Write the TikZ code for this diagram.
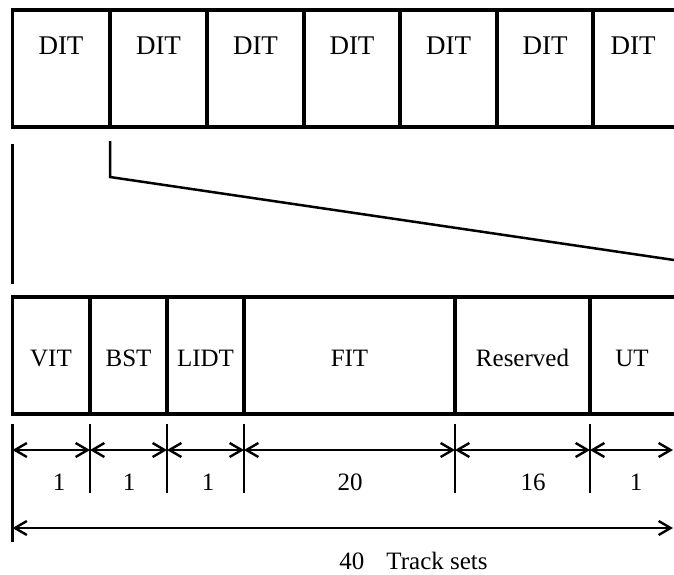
\documentclass[tikz,border=0pt]{standalone}
\usepackage{fontspec}
\setmainfont{Liberation Serif}
\usetikzlibrary{arrows.meta}
\begin{document}
\begin{tikzpicture}[x=1pt,y=-1pt,
  boxline/.style={line width=3.2pt},
  linkline/.style={line width=2.5pt},
  tickline/.style={line width=2.4pt},
  dimline/.style={line width=2.4pt,{Straight Barb[length=12pt,width=14pt]}-{Straight Barb[length=12pt,width=14pt]}},
  lab/.style={font=\fontsize{25}{30}\selectfont, inner sep=0pt},
  ditlab/.style={font=\fontsize{27}{32}\selectfont, inner sep=0pt}]
\useasboundingbox (0,0) rectangle (674,574);

% ---------- top row of DIT cells ----------
\draw[boxline] (674,10) -- (12.5,10) -- (12.5,127) -- (674,127);
\foreach \x in {110,207,304,400,497,593}
  \draw[boxline] (\x,10) -- (\x,127);
\node[ditlab] (dit1) at (61,46) {DIT};
\node[ditlab] (dit2) at (158.5,46) {DIT};
\node[ditlab] (dit3) at (255.5,46) {DIT};
\node[ditlab] (dit4) at (352,46) {DIT};
\node[ditlab] (dit5) at (448.5,46) {DIT};
\node[ditlab] (dit6) at (545,46) {DIT};
\node[ditlab] (dit7) at (633,46) {DIT};

% ---------- zoom lines ----------
\coordinate (zl1) at (12.5,144);
\coordinate (zl2) at (12.5,284);
\draw[linkline] (zl1) -- (zl2);
\coordinate (zr1) at (110,141);
\coordinate (zr2) at (110,177);
\coordinate (zr3) at (674,260);
\draw[linkline] (zr1) -- (zr2) -- (zr3);

% ---------- bottom row of cells ----------
\draw[boxline] (674,297) -- (12.5,297) -- (12.5,414) -- (674,414);
\foreach \x in {90,167,244,455,590}
  \draw[boxline] (\x,297) -- (\x,414);
\node[lab] (vit) at (51,358) {VIT};
\node[lab] (bst) at (128.5,358) {BST};
\node[lab] (lidt) at (205.5,358) {LIDT};
\node[lab] (fit) at (349.5,358) {FIT};
\node[lab] (res) at (522.5,358) {Reserved};
\node[lab] (ut) at (632,358) {UT};

% ---------- dimension ticks ----------
\coordinate (t0) at (12.5,424);
\coordinate (b0) at (12.5,542);
\draw[tickline] (t0) -- (b0);
\foreach \x/\n in {90/1,167/2,244/3,455/4,590/5}{
  \coordinate (t\n) at (\x,424);
  \coordinate (b\n) at (\x,493);
  \draw[tickline] (t\n) -- (b\n);
}
\foreach \x/\n in {12.5/0,90/1,167/2,244/3,455/4,590/5}
  \coordinate (a\n) at (\x,450);
\coordinate (a6) at (673,450);
\draw[dimline] (a0) -- (a1);
\draw[dimline] (a1) -- (a2);
\draw[dimline] (a2) -- (a3);
\draw[dimline] (a3) -- (a4);
\draw[dimline] (a4) -- (a5);
\draw[dimline] (a5) -- (a6);

\node[lab] (n1) at (59,482) {1};
\node[lab] (n2) at (129,482) {1};
\node[lab] (n3) at (208,482) {1};
\node[lab] (n4) at (350,482) {20};
\node[lab] (n5) at (533,482) {16};
\node[lab] (n6) at (636,482) {1};

% ---------- total ----------
\coordinate (tot0) at (12.5,528);
\coordinate (tot1) at (673,528);
\draw[dimline] (tot0) -- (tot1);
\node[lab] (total) at (413.5,561) {40\hspace{22pt}Track sets};
\end{tikzpicture}
\end{document}
